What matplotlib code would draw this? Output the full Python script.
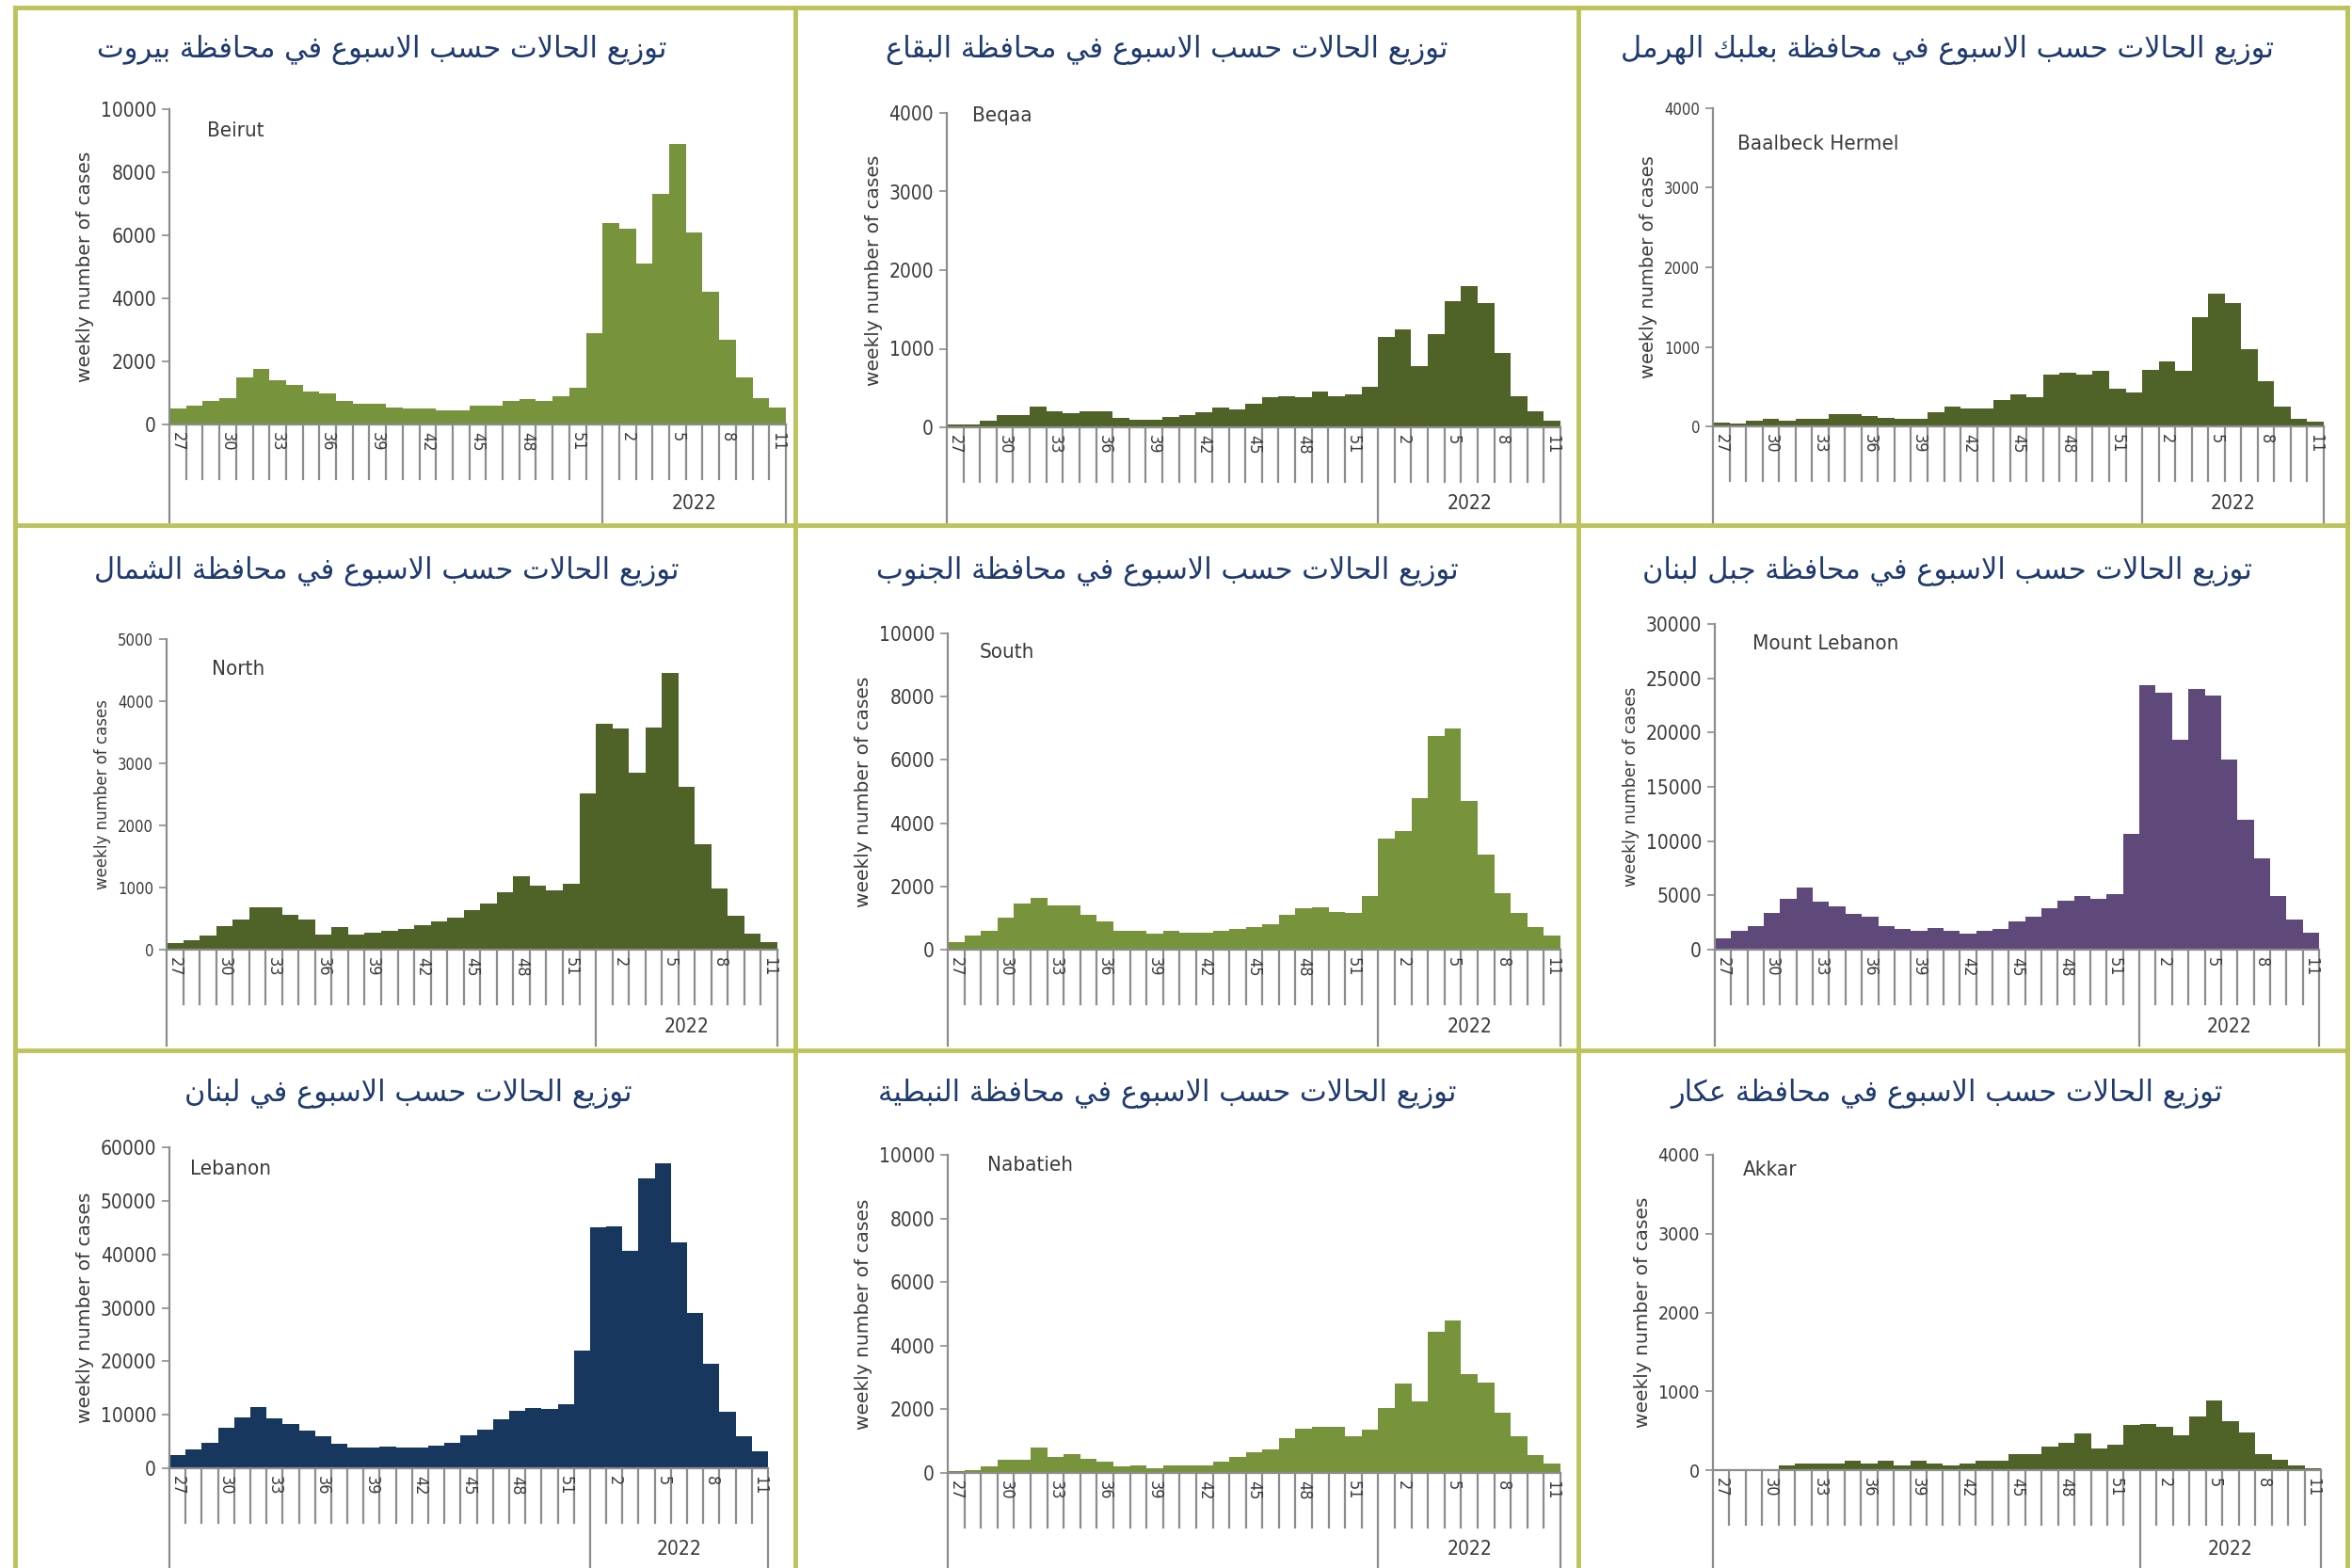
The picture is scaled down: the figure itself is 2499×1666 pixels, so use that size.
import matplotlib
matplotlib.use("Agg")
import matplotlib.pyplot as plt
from matplotlib.lines import Line2D

# ── data ────────────────────────────────────────────────────────────────
weeks = list(range(27, 53)) + list(range(1, 12))

beirut = [500, 600, 750, 850, 1500, 1750, 1400, 1250, 1050, 1000, 750, 650, 650,
          550, 500, 500, 450, 450, 600, 600, 750, 800, 750, 900, 1150, 2900,
          6400, 6200, 5100, 7300, 8900, 6100, 4200, 2700, 1500, 850, 550]
beqaa = [40, 40, 80, 160, 150, 260, 200, 180, 200, 200, 120, 100, 100,
         130, 150, 190, 250, 230, 300, 380, 400, 380, 450, 400, 420, 520,
         1150, 1250, 780, 1180, 1600, 1800, 1580, 950, 400, 200, 80]
baalbeck = [50, 30, 70, 100, 70, 100, 100, 150, 150, 130, 110, 100, 100,
            180, 250, 230, 230, 330, 400, 370, 650, 670, 650, 700, 470, 430,
            710, 820, 700, 1370, 1670, 1550, 970, 570, 250, 100, 60]
north = [100, 150, 220, 380, 480, 680, 680, 560, 490, 250, 370, 250, 280,
         300, 340, 400, 450, 520, 640, 740, 920, 1180, 1030, 950, 1060, 2520,
         3640, 3560, 2850, 3570, 4450, 2620, 1700, 990, 550, 260, 120]
south = [250, 450, 600, 1000, 1450, 1650, 1400, 1400, 1100, 900, 600, 600, 500,
         600, 550, 550, 600, 650, 700, 800, 1100, 1300, 1350, 1200, 1150, 1700,
         3500, 3750, 4800, 6750, 7000, 4700, 3000, 1800, 1150, 700, 450]
mount_lebanon = [1000, 1700, 2200, 3400, 4700, 5700, 4400, 4000, 3300, 3000, 2200,
                 1900, 1700, 2000, 1700, 1500, 1700, 1900, 2600, 3000, 3800, 4500,
                 4900, 4700, 5100, 10700, 24400, 23700, 19300, 24000, 23400, 17500,
                 12000, 8400, 4900, 2800, 1600]
lebanon = [2500, 3500, 4700, 7500, 9500, 11500, 9300, 8300, 7000, 6000, 4500, 3800,
           3800, 4100, 3800, 3800, 4200, 4800, 6200, 7300, 9200, 10700, 11300, 11000,
           12000, 22000, 45000, 45300, 40700, 54200, 57000, 42200, 29100, 19600,
           10600, 6000, 3200]
nabatieh = [50, 100, 200, 400, 400, 800, 500, 600, 450, 350, 200, 250, 150,
            250, 250, 250, 350, 500, 650, 750, 1100, 1400, 1450, 1450, 1150, 1350,
            2050, 2800, 2250, 4450, 4800, 3100, 2850, 1900, 1150, 550, 300]
akkar = [10, 10, 10, 10, 60, 80, 80, 80, 120, 80, 120, 60, 120,
         80, 60, 80, 120, 120, 200, 200, 300, 350, 470, 270, 320, 570,
         590, 550, 440, 680, 880, 620, 480, 200, 130, 60, 20]

region_names = ["Beirut", "Beqaa", "Baalbeck Hermel",
                "North", "South", "Mount Lebanon",
                "Lebanon", "Nabatieh", "Akkar"]
titles_ar = [
    "توزيع الحالات حسب الاسبوع في محافظة بيروت",
    "توزيع الحالات حسب الاسبوع في محافظة البقاع",
    "توزيع الحالات حسب الاسبوع في محافظة بعلبك الهرمل",
    "توزيع الحالات حسب الاسبوع في محافظة الشمال",
    "توزيع الحالات حسب الاسبوع في محافظة الجنوب",
    "توزيع الحالات حسب الاسبوع في محافظة جبل لبنان",
    "توزيع الحالات حسب الاسبوع في لبنان",
    "توزيع الحالات حسب الاسبوع في محافظة النبطية",
    "توزيع الحالات حسب الاسبوع في محافظة عكار",
]
series = [beirut, beqaa, baalbeck, north, south, mount_lebanon, lebanon, nabatieh, akkar]
y_max = [10000, 4000, 4000, 5000, 10000, 30000, 60000, 10000, 4000]
y_step = [2000, 1000, 1000, 1000, 2000, 5000, 10000, 2000, 1000]
year_label = "2022"
y_label = "weekly number of cases"

# ── style ───────────────────────────────────────────────────────────────
LIGHT_GREEN = "#77933C"
DARK_GREEN = "#4F6228"
PURPLE = "#5F497A"
NAVY = "#17375E"
bar_colors = [LIGHT_GREEN, DARK_GREEN, DARK_GREEN,
              DARK_GREEN, LIGHT_GREEN, PURPLE,
              NAVY, LIGHT_GREEN, DARK_GREEN]
AXIS_GREY = "#8C8C8C"
TEXT_GREY = "#3A3A3A"
TITLE_BLUE = "#1F3A6E"
BORDER = "#BCC35A"

W, H = 2499, 1666

# pixel layout per panel: axis x, top of y range, zero line, right end, panel bottom
boxes = [
    (180, 116, 451, 835, 555), (1006, 120, 454, 1658, 555), (1820, 115, 453, 2469, 555),
    (177, 679, 1009, 826, 1111), (1007, 673, 1009, 1658, 1111), (1822, 663, 1009, 2464, 1111),
    (180, 1219, 1560, 816, 1666), (1007, 1227, 1565, 1658, 1666), (1820, 1227, 1562, 2466, 1666),
]
title_pos = [(406, 53), (1240, 53), (2069, 53),
             (411, 607), (1240, 607), (2069, 607),
             (434, 1162), (1240, 1162), (2069, 1162)]
name_pos = [(220, 139), (1033, 123), (1846, 153),
            (225, 711), (1041, 693), (1862, 684),
            (202, 1242), (1049, 1238), (1852, 1243)]
tick_size = [15, 15, 12, 12, 15, 15, 15, 15, 14]
ylab_size = [14.5, 14.5, 14, 12, 14.5, 12.5, 14.5, 14.5, 14.5]

COND = dict(family="DejaVu Sans", stretch="condensed")

# ── minimal Arabic shaping (matplotlib has no bidi/joining support) ────
_ORDER = "ءآأؤإئابةتثجحخدذرزسشصضطظعغفقكلمنهوىي"
_RIGHT_JOIN = "آأؤإادذرزوةى"
_LAM_ALEF = {"ا": ("\uFEFB", "\uFEFC"), "آ": ("\uFEF5", "\uFEF6"),
             "أ": ("\uFEF7", "\uFEF8"), "إ": ("\uFEF9", "\uFEFA")}


def _forms_table():
    table, code = {}, 0xFE80
    for ch in _ORDER:
        n = 1 if ch == "ء" else (2 if ch in _RIGHT_JOIN else 4)
        table[ch] = [chr(code + k) for k in range(n)]
        code += n
    return table


_FORMS = _forms_table()


def shape_arabic(text):
    def joins_next(c):
        return c in _FORMS and len(_FORMS[c]) == 4

    def joining(c):
        return c in _FORMS and c != "ء"

    out, i, n = [], 0, len(text)
    while i < n:
        c = text[i]
        prev = text[i - 1] if i > 0 else None
        p = prev is not None and joins_next(prev)
        if c == "ل" and i + 1 < n and text[i + 1] in _LAM_ALEF:
            iso, fin = _LAM_ALEF[text[i + 1]]
            out.append(fin if p else iso)
            i += 2
            continue
        if c not in _FORMS:
            out.append(c)
            i += 1
            continue
        nxt = text[i + 1] if i + 1 < n else None
        q = joins_next(c) and nxt is not None and joining(nxt)
        f = _FORMS[c]
        if p and q:
            out.append(f[3])
        elif p:
            out.append(f[1] if len(f) > 1 else f[0])
        elif q:
            out.append(f[2])
        else:
            out.append(f[0])
        i += 1
    return "".join(reversed(out))


# ── figure ──────────────────────────────────────────────────────────────
fig = plt.figure(figsize=(W / 100, H / 100), dpi=100)
fig.patch.set_facecolor("white")

# panel frame lines
for x in (16, 845, 1677, 2494):
    fig.add_artist(Line2D([x / W, x / W], [0, 1 - 8 / H], color=BORDER, lw=3.5))
for y in (8, 558, 1116):
    fig.add_artist(Line2D([16 / W, 2494 / W], [1 - y / H, 1 - y / H], color=BORDER, lw=3.5))

n_bars = len(weeks)
split = weeks.index(1) - 0.5
tick_len_px = 58

for k in range(9):
    left, top, zero, right, bottom = boxes[k]
    ax = fig.add_axes([left / W, 1 - zero / H, (right - left) / W, (zero - top) / H])
    ax.bar(range(n_bars), series[k], width=1.0, color=bar_colors[k], linewidth=0)
    ax.set_xlim(-0.5, n_bars - 0.5)
    ax.set_ylim(0, y_max[k])
    ax.set_yticks(range(0, y_max[k] + 1, y_step[k]))
    ax.tick_params(axis="y", direction="out", length=6, width=1.2, color=AXIS_GREY,
                   labelsize=tick_size[k], labelcolor=TEXT_GREY, pad=4)
    for lab in ax.get_yticklabels():
        lab.set_fontstretch("condensed")
    ax.set_xticks([])
    for s in ("top", "right"):
        ax.spines[s].set_visible(False)
    for s in ("left", "bottom"):
        ax.spines[s].set_color(AXIS_GREY)
        ax.spines[s].set_linewidth(1.6)
    ax.set_ylabel(y_label, fontsize=ylab_size[k], color=TEXT_GREY, labelpad=5)

    ah = zero - top
    trans = ax.get_xaxis_transform()
    short = -tick_len_px / ah
    deep = -(bottom - zero) / ah
    for b in range(1, n_bars):
        xb = b - 0.5
        y_end = deep if xb == split else short
        ax.plot([xb, xb], [0, y_end], transform=trans, color=AXIS_GREY, lw=1.6,
                clip_on=False)
    for xb in (-0.5, n_bars - 0.5):
        ax.plot([xb, xb], [0, deep], transform=trans, color=AXIS_GREY, lw=1.6,
                clip_on=False)
    for i in range(0, n_bars, 3):
        ax.text(i, -8 / ah, str(weeks[i]), transform=trans, rotation=270,
                ha="center", va="top", fontsize=13, color=TEXT_GREY, **COND)
    ax.text((split + n_bars - 0.5) / 2, deep + 20 / ah, year_label, transform=trans,
            ha="center", va="center", fontsize=15, color=TEXT_GREY, **COND)

    tx, ty = title_pos[k]
    fig.text(tx / W, 1 - ty / H, shape_arabic(titles_ar[k]), ha="center", va="center",
             fontsize=22, color=TITLE_BLUE, family="DejaVu Sans")
    nx, ny = name_pos[k]
    fig.text(nx / W, 1 - ny / H, region_names[k], ha="left", va="center",
             fontsize=16, color=TEXT_GREY, **COND)

fig.savefig("out.png", dpi=100, facecolor="white")
